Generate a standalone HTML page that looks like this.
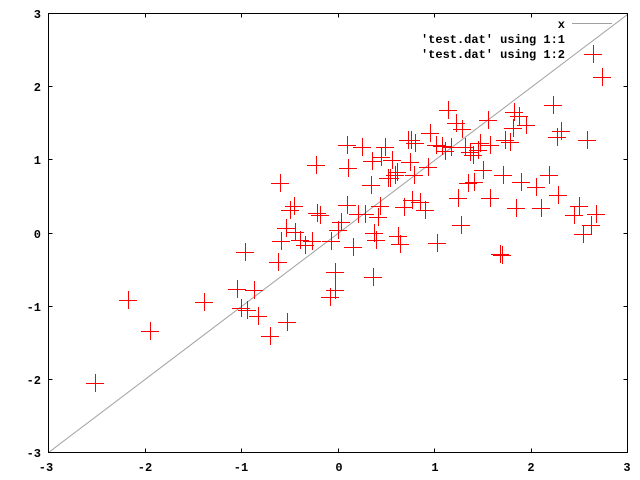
<!DOCTYPE html>
<html><head><meta charset="utf-8"><style>
html,body{margin:0;padding:0;background:#fff;}
svg{display:block;}
text{font-family:"Liberation Mono",monospace;font-weight:bold;font-size:12px;fill:#000;}
</style></head><body>
<svg width="640" height="480" viewBox="0 0 640 480" xmlns="http://www.w3.org/2000/svg">
<rect x="0" y="0" width="640" height="480" fill="#fff"/>
<line x1="48.5" y1="452.5" x2="627.5" y2="14.5" stroke="#a0a0a0" stroke-width="1"/>
<g stroke="#000" stroke-width="1" fill="none">
<rect x="48.5" y="13.5" width="579" height="439"/>
<path d="M48.5 86.5h4M48.5 159.5h4M48.5 233.5h4M48.5 306.5h4M48.5 379.5h4
M627.5 86.5h-4M627.5 159.5h-4M627.5 233.5h-4M627.5 306.5h-4M627.5 379.5h-4
M145.5 452.5v-4M241.5 452.5v-4M338.5 452.5v-4M434.5 452.5v-4M531.5 452.5v-4
M145.5 13.5v4M241.5 13.5v4M338.5 13.5v4M434.5 13.5v4M531.5 13.5v4"/>
</g>
<g text-anchor="end">
<text x="41" y="18">3</text><text x="41" y="91">2</text><text x="41" y="164">1</text>
<text x="41" y="238">0</text><text x="41" y="311">-1</text><text x="41" y="384">-2</text><text x="41" y="457">-3</text>
</g>
<g text-anchor="middle">
<text x="46" y="471">-3</text><text x="145" y="471">-2</text><text x="241" y="471">-1</text>
<text x="339" y="471">0</text><text x="435" y="471">1</text><text x="531" y="471">2</text><text x="627" y="471">3</text>
</g>
<g text-anchor="end">
<text x="565" y="28">x</text>
<text x="565" y="43">'test.dat' using 1:1</text>
<text x="565" y="58">'test.dat' using 1:2</text>
</g>
<line x1="572" y1="23.5" x2="612" y2="23.5" stroke="#a0a0a0"/>
<path stroke="#ff0000" stroke-width="1" fill="none" d="
M86 383.5h18M95.5 374v18
M119 300.5h18M128.5 291v18
M141 331.5h18M150.5 322v18
M195 302.5h18M204.5 293v18
M236 252.5h18M245.5 243v18
M228 289.5h18M237.5 280v18
M232 308.5h18M241.5 299v18
M238 310.5h18M247.5 301v18
M249 316.5h18M258.5 307v18
M261 336.5h18M270.5 327v18
M245 290.5h18M254.5 281v18
M271 183.5h18M280.5 174v18
M278 322.5h18M287.5 313v18
M269 262.5h18M278.5 253v18
M272 241.5h18M281.5 232v18
M277 228.5h18M286.5 219v18
M281 210.5h18M290.5 201v18
M285 206.5h18M294.5 197v18
M286 232.5h18M295.5 223v18
M291 240.5h18M300.5 231v18
M296 245.5h18M305.5 236v18
M303 241.5h18M312.5 232v18
M307 165.5h18M316.5 156v18
M308 213.5h18M317.5 204v18
M311 215.5h18M320.5 206v18
M321 297.5h18M330.5 288v18
M322 241.5h18M331.5 232v18
M326 290.5h18M335.5 281v18
M326 272.5h18M335.5 263v18
M329 230.5h18M338.5 221v18
M332 222.5h18M341.5 213v18
M338 145.5h18M347.5 136v18
M338 205.5h18M347.5 196v18
M339 168.5h18M348.5 159v18
M344 247.5h18M353.5 238v18
M349 214.5h18M358.5 205v18
M353 147.5h18M362.5 138v18
M356 214.5h18M365.5 205v18
M362 185.5h18M371.5 176v18
M363 161.5h18M372.5 152v18
M364 277.5h18M373.5 268v18
M365 233.5h18M374.5 224v18
M367 240.5h18M376.5 231v18
M369 217.5h18M378.5 208v18
M371 206.5h18M380.5 197v18
M372 157.5h18M381.5 148v18
M376 147.5h18M385.5 138v18
M379 178.5h18M388.5 169v18
M381 178.5h18M390.5 169v18
M383 160.5h18M392.5 151v18
M386 175.5h18M395.5 166v18
M388 172.5h18M397.5 163v18
M389 236.5h18M398.5 227v18
M391 244.5h18M400.5 235v18
M395 207.5h18M404.5 198v18
M399 140.5h18M408.5 131v18
M401 162.5h18M410.5 153v18
M402 140.5h18M411.5 131v18
M403 200.5h18M412.5 191v18
M405 175.5h18M414.5 166v18
M406 143.5h18M415.5 134v18
M411 202.5h18M420.5 193v18
M416 210.5h18M425.5 201v18
M419 167.5h18M428.5 158v18
M421 133.5h18M430.5 124v18
M427 145.5h18M436.5 136v18
M428 243.5h18M437.5 234v18
M433 146.5h18M442.5 137v18
M436 151.5h18M445.5 142v18
M439 110.5h18M448.5 101v18
M442 147.5h18M451.5 138v18
M447 123.5h18M456.5 114v18
M449 198.5h18M458.5 189v18
M452 225.5h18M461.5 216v18
M453 129.5h18M462.5 120v18
M456 147.5h18M465.5 138v18
M459 183.5h18M468.5 174v18
M461 152.5h18M470.5 143v18
M464 155.5h18M473.5 146v18
M465 182.5h18M474.5 173v18
M469 150.5h18M478.5 141v18
M471 143.5h18M480.5 134v18
M474 170.5h18M483.5 161v18
M479 120.5h18M488.5 111v18
M481 198.5h18M490.5 189v18
M481 145.5h18M490.5 136v18
M491 254.5h18M500.5 245v18
M493 255.5h18M502.5 246v18
M494 175.5h18M503.5 166v18
M496 140.5h18M505.5 131v18
M501 142.5h18M510.5 133v18
M504 128.5h18M513.5 119v18
M505 112.5h18M514.5 103v18
M507 208.5h18M516.5 199v18
M510 116.5h18M519.5 107v18
M512 182.5h18M521.5 173v18
M517 125.5h18M526.5 116v18
M527 187.5h18M536.5 178v18
M532 208.5h18M541.5 199v18
M540 175.5h18M549.5 166v18
M544 105.5h18M553.5 96v18
M548 137.5h18M557.5 128v18
M549 195.5h18M558.5 186v18
M552 131.5h18M561.5 122v18
M565 215.5h18M574.5 206v18
M570 206.5h18M579.5 197v18
M574 234.5h18M583.5 225v18
M578 140.5h18M587.5 131v18
M582 225.5h18M591.5 216v18
M584 54.5h18M593.5 45v18
M587 214.5h18M596.5 205v18
M593 77.5h18M602.5 68v18"/>
</svg>
</body></html>
